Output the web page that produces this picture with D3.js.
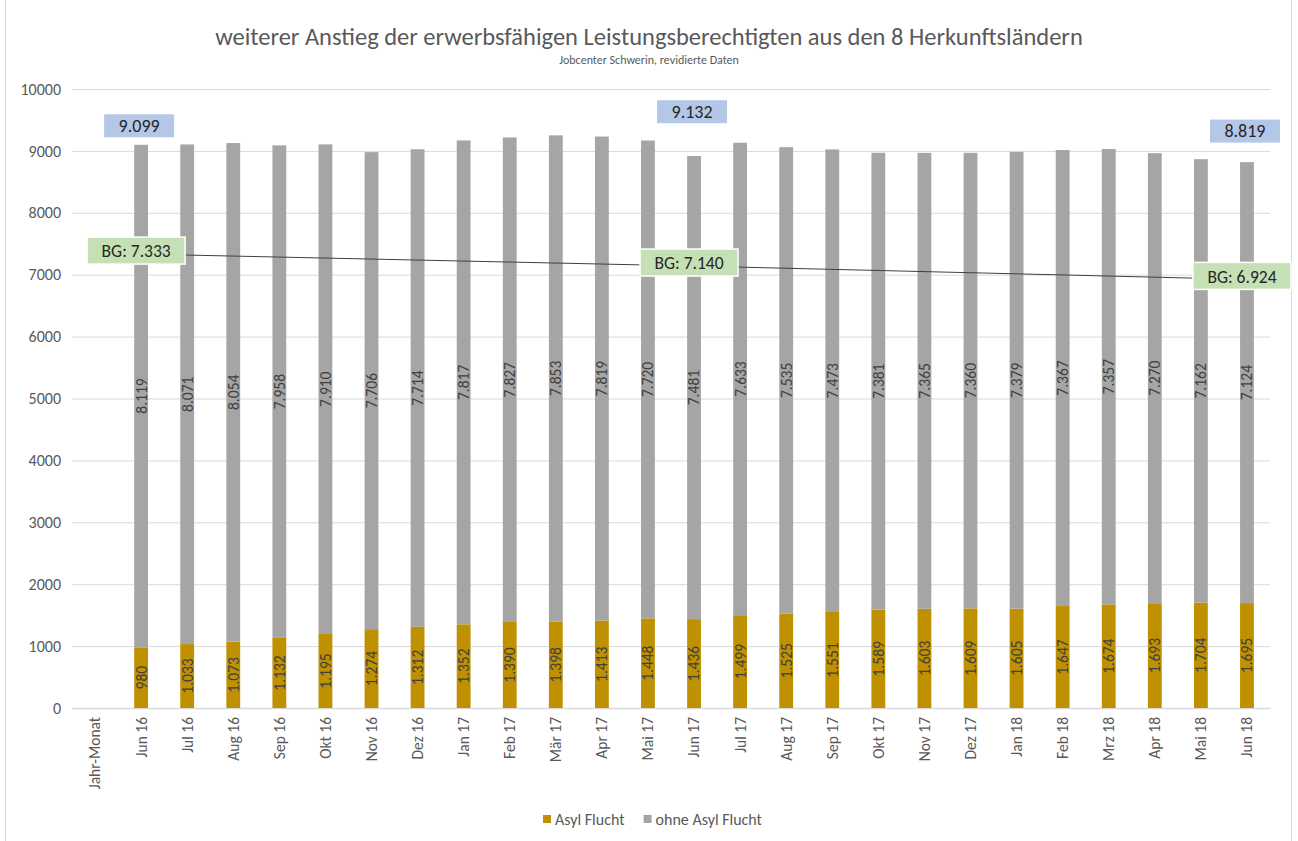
<!DOCTYPE html>
<html>
<head>
<meta charset="utf-8">
<script src="https://cdn.jsdelivr.net/npm/d3@7"></script>
<style>
  body { margin: 0; background: #fff; }
  svg { font-family: Carlito, Calibri, Lato, sans-serif; }
</style>
</head>
<body>
<svg id="chart" width="1298" height="841"></svg>
<script>
const axisTitle = 'Jahr-Monat';
const months = ['Jun 16', 'Jul 16', 'Aug 16', 'Sep 16', 'Okt 16', 'Nov 16', 'Dez 16',
  'Jan 17', 'Feb 17', 'Mär 17', 'Apr 17', 'Mai 17', 'Jun 17', 'Jul 17', 'Aug 17',
  'Sep 17', 'Okt 17', 'Nov 17', 'Dez 17', 'Jan 18', 'Feb 18', 'Mrz 18', 'Apr 18',
  'Mai 18', 'Jun 18'];
const asyl = [980, 1033, 1073, 1132, 1195, 1274, 1312, 1352, 1390, 1398, 1413, 1448,
  1436, 1499, 1525, 1551, 1589, 1603, 1609, 1605, 1647, 1674, 1693, 1704, 1695];
const ohneAsyl = [8119, 8071, 8054, 7958, 7910, 7706, 7714, 7817, 7827, 7853, 7819, 7720,
  7481, 7633, 7535, 7473, 7381, 7365, 7360, 7379, 7367, 7357, 7270, 7162, 7124];
const yTicks = [0, 1000, 2000, 3000, 4000, 5000, 6000, 7000, 8000, 9000, 10000];

// Bedarfsgemeinschaften (line)
const bgMonths = ['Jun 16', 'Jun 17', 'Jun 18'];
const bgValues = [7333, 7140, 6924];

// totals shown in blue boxes
const totalMonths = ['Jun 16', 'Jun 17', 'Jun 18'];
const totalValues = [9099, 9132, 8819];

const fmt = v => d3.format(',')(v).replace(/,/g, '.');
const FONT = 'Carlito, Calibri, Lato, sans-serif';

const svg = d3.select('#chart');
const margin = { top: 89, left: 72, right: 1270, bottom: 708 };

svg.append('rect')
  .attr('x', 5.5).attr('y', -2).attr('width', 1286).attr('height', 850)
  .attr('fill', '#fff').attr('stroke', '#d9d9d9');

const x = d3.scaleBand()
  .domain([axisTitle, ...months])
  .range([margin.left, margin.right])
  .paddingInner(0.7).paddingOuter(0.35);
const y = d3.scaleLinear().domain([0, 10000]).range([margin.bottom, margin.top]);

// title
svg.append('text')
  .attr('x', 649).attr('y', 45).attr('text-anchor', 'middle')
  .attr('font-size', 24.5).attr('fill', '#595959')
  .text('weiterer Anstieg der erwerbsfähigen Leistungsberechtigten aus den 8 Herkunftsländern');
svg.append('text')
  .attr('x', 649).attr('y', 64).attr('text-anchor', 'middle')
  .attr('font-size', 12).attr('fill', '#595959')
  .text('Jobcenter Schwerin, revidierte Daten');

// gridlines + y labels
const yAxis = svg.append('g').attr('transform', `translate(${margin.left},0)`)
  .call(d3.axisLeft(y).tickValues(yTicks).tickFormat(d3.format('d'))
    .tickSize(-(margin.right - margin.left)).tickPadding(11));
yAxis.select('.domain').remove();
yAxis.selectAll('line').attr('stroke', '#d9d9d9');
yAxis.selectAll('text').attr('font-size', 16).attr('fill', '#595959')
  .attr('font-family', FONT);

// x axis
const xAxis = svg.append('g').attr('transform', `translate(0,${margin.bottom})`)
  .call(d3.axisBottom(x).tickSize(0));
xAxis.select('.domain').attr('stroke', '#d9d9d9').attr('stroke-width', 1.5);
xAxis.selectAll('text')
  .attr('font-size', 15.5).attr('fill', '#595959')
  .attr('font-family', FONT)
  .attr('transform', 'rotate(-90)')
  .attr('text-anchor', 'end')
  .attr('x', -9).attr('y', 0).attr('dy', '0.35em');

// stacked bars
const rows = months.map((m, i) => ({ month: m, asyl: asyl[i], ohne: ohneAsyl[i] }));
const stack = d3.stack().keys(['asyl', 'ohne'])(rows);
const colors = { asyl: '#bf9000', ohne: '#a5a5a5' };

const layers = svg.append('g').selectAll('g').data(stack).join('g')
  .attr('fill', d => colors[d.key]);
layers.selectAll('rect').data(d => d).join('rect')
  .attr('x', d => x(d.data.month))
  .attr('width', x.bandwidth())
  .attr('y', d => y(d[1]))
  .attr('height', d => y(d[0]) - y(d[1]));

// labels inside segments
stack.forEach(layer => {
  svg.append('g').selectAll('text').data(layer).join('text')
    .attr('transform', d => `translate(${x(d.data.month) + x.bandwidth() / 2},${(y(d[0]) + y(d[1])) / 2}) rotate(-90)`)
    .attr('text-anchor', 'middle').attr('dy', '0.35em')
    .attr('font-size', 15.5).attr('fill', '#404040')
    .text(d => fmt(d[1] - d[0]));
});

// BG line
const cx = m => x(m) + x.bandwidth() / 2;
svg.append('path')
  .datum(bgMonths.map((m, i) => [cx(m), y(bgValues[i])]))
  .attr('fill', 'none').attr('stroke', '#404040').attr('stroke-width', 1)
  .attr('d', d3.line());

const bgLabels = svg.append('g').selectAll('g').data(bgMonths).join('g')
  .attr('transform', (m, i) => `translate(${cx(m) - 5},${y(bgValues[i]) - 3})`);
bgLabels.append('rect')
  .attr('x', -49).attr('y', -14).attr('width', 98).attr('height', 27)
  .attr('fill', '#c5e0b4').attr('stroke', '#fff').attr('stroke-width', 1.5);
bgLabels.append('text')
  .attr('text-anchor', 'middle').attr('dy', '0.35em')
  .attr('font-size', 17.5).attr('fill', '#262626')
  .text((m, i) => 'BG: ' + fmt(bgValues[i]));

// total boxes
const totalDy = [19, 31, 31];
const totLabels = svg.append('g').selectAll('g').data(totalMonths).join('g')
  .attr('transform', (m, i) => `translate(${cx(m) - 2},${y(totalValues[i]) - totalDy[i]})`);
totLabels.append('rect')
  .attr('x', -35).attr('y', -11.5).attr('width', 70).attr('height', 23)
  .attr('fill', '#b4c7e7');
totLabels.append('text')
  .attr('text-anchor', 'middle').attr('dy', '0.35em')
  .attr('font-size', 18).attr('fill', '#262626')
  .text((m, i) => fmt(totalValues[i]));

// legend
const legendItems = [['Asyl Flucht', colors.asyl], ['ohne Asyl Flucht', colors.ohne]];
const legend = svg.append('g').attr('transform', 'translate(543,819)');
let lx = 0;
legendItems.forEach(([label, c]) => {
  const g = legend.append('g').attr('transform', `translate(${lx},0)`);
  g.append('rect').attr('x', 0).attr('y', -4).attr('width', 8).attr('height', 8).attr('fill', c);
  const t = g.append('text').attr('x', 12).attr('dy', '0.35em')
    .attr('font-size', 16).attr('fill', '#595959').text(label);
  lx += 12 + t.node().getComputedTextLength() + 19;
});
</script>
</body>
</html>
